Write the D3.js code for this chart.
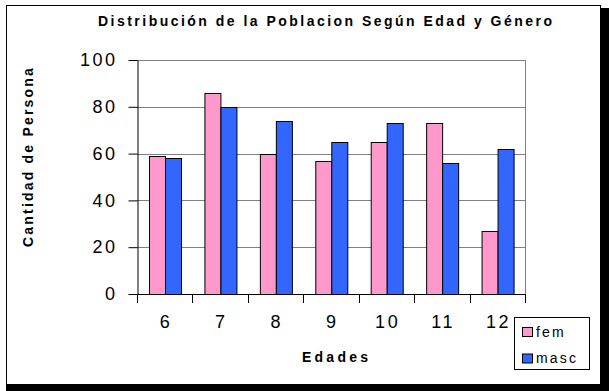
<!DOCTYPE html>
<html>
<head>
<meta charset="utf-8">
<script src="https://cdn.jsdelivr.net/npm/d3@7"></script>
<style>
body { margin: 0; background: #fff; }
svg { display: block; font-family: "Liberation Sans", Arial, sans-serif; }
</style>
</head>
<body>
<div id="chart"></div>
<script>
const width = 609;
const height = 391;

const edades = ["6", "7", "8", "9", "10", "11", "12"];
const series = ["fem", "masc"];
const fem = [59, 86, 60, 57, 65, 73, 27];
const masc = [58, 80, 74, 65, 73, 56, 62];
const yTicks = [0, 20, 40, 60, 80, 100];
const colors = {"fem": "#ff99cc", "masc": "#3366ff"};

const plot = {"left": 137, "right": 525, "top": 60, "bottom": 294};

let svg = d3.select("#chart").append("svg")
	.attr("width", width)
	.attr("height", height);

// frame + shadow
svg.append("rect")
	.attr("x", 6).attr("y", 8)
	.attr("width", width - 6).attr("height", height - 8)
	.attr("fill", "#000");
svg.append("rect")
	.attr("x", 6.5).attr("y", 5.5)
	.attr("width", 594).attr("height", 379)
	.attr("fill", "#fff")
	.attr("stroke", "#000");

let x = d3.scaleBand()
	.domain(edades)
	.range([plot.left, plot.right]);
let xInner = d3.scaleBand()
	.domain(series)
	.range([0, x.bandwidth()])
	.paddingOuter(0.75);
let y = d3.scaleLinear()
	.domain([0, 100])
	.range([plot.bottom, plot.top]);

// gridlines
svg.append("g")
	.selectAll("line")
	.data(yTicks.filter(d => d > 0))
	.enter()
	.append("line")
	.attr("x1", plot.left).attr("x2", plot.right)
	.attr("y1", d => Math.round(y(d)) + 0.5).attr("y2", d => Math.round(y(d)) + 0.5)
	.attr("stroke", "#808080");
svg.append("line")
	.attr("x1", plot.right + 0.5).attr("x2", plot.right + 0.5)
	.attr("y1", plot.top).attr("y2", plot.bottom)
	.attr("stroke", "#808080");

// bars
let rows = edades.map((d, i) => ({"edad": d, "fem": fem[i], "masc": masc[i]}));
let groups = svg.append("g")
	.selectAll("g")
	.data(rows)
	.enter()
	.append("g")
	.attr("transform", d => "translate(" + x(d.edad) + ",0)");
groups.selectAll("rect")
	.data(d => series.map(s => ({"key": s, "value": d[s]})))
	.enter()
	.append("rect")
	.attr("x", d => Math.round(xInner(d.key)) + 0.5)
	.attr("y", d => Math.round(y(d.value)) + 0.5)
	.attr("width", Math.round(xInner.bandwidth()))
	.attr("height", d => Math.round(y(0)) - Math.round(y(d.value)))
	.attr("fill", d => colors[d.key])
	.attr("stroke", "#000");

// y axis
let yAxis = svg.append("g")
	.attr("transform", "translate(" + (plot.left + 0.5) + ",0)")
	.call(d3.axisLeft(y).tickValues(yTicks).tickSize(9).tickPadding(11).tickSizeOuter(0));
yAxis.select(".domain").attr("stroke", "#000");
yAxis.selectAll(".tick line").attr("stroke", "#000");
yAxis.selectAll(".tick text")
	.attr("font-size", 18)
	.attr("letter-spacing", 2.5)
	.attr("font-family", "Liberation Sans, Arial, sans-serif")
	.attr("fill", "#000");

// x axis
let xAxis = svg.append("g")
	.attr("transform", "translate(0," + (plot.bottom + 0.5) + ")")
	.call(d3.axisBottom(x).tickSize(0).tickPadding(21).tickSizeOuter(0));
xAxis.select(".domain").remove();
xAxis.selectAll(".tick text")
	.attr("font-size", 18)
	.attr("letter-spacing", 2.5)
	.attr("dx", 1.2)
	.attr("font-family", "Liberation Sans, Arial, sans-serif")
	.attr("fill", "#000");
svg.append("line")
	.attr("x1", plot.left).attr("x2", plot.right + 1)
	.attr("y1", plot.bottom + 0.5).attr("y2", plot.bottom + 0.5)
	.attr("stroke", "#000");
svg.append("g")
	.selectAll("line")
	.data(edades.map(d => x(d)).concat([x.range()[1]]))
	.enter()
	.append("line")
	.attr("x1", d => Math.round(d) + 0.5).attr("x2", d => Math.round(d) + 0.5)
	.attr("y1", plot.bottom).attr("y2", plot.bottom + 9)
	.attr("stroke", "#000");

// title and axis titles
svg.append("text")
	.attr("x", 98).attr("y", 26)
	.attr("font-size", 14)
	.attr("font-weight", "bold")
	.attr("textLength", 454)
	.attr("lengthAdjust", "spacing")
	.text("Distribución de la Poblacion Según Edad y Género");

svg.append("text")
	.attr("x", 302).attr("y", 362)
	.attr("font-size", 14)
	.attr("font-weight", "bold")
	.attr("textLength", 66)
	.attr("lengthAdjust", "spacing")
	.text("Edades");

svg.append("clipPath")
	.attr("id", "ylabClip")
	.append("rect")
	.attr("x", 0).attr("y", 66)
	.attr("width", 60).attr("height", 300);
svg.append("g")
	.attr("clip-path", "url(#ylabClip)")
	.append("text")
	.attr("transform", "translate(33,247) rotate(-90)")
	.attr("font-size", 14)
	.attr("font-weight", "bold")
	.attr("letter-spacing", 2.2)
	.text("Cantidad de Personas");

// legend
let legend = svg.append("g");
legend.append("rect")
	.attr("x", 514.5).attr("y", 317.5)
	.attr("width", 75).attr("height", 52)
	.attr("fill", "#fff")
	.attr("stroke", "#000");
let items = legend.selectAll("g")
	.data(series)
	.enter()
	.append("g")
	.attr("transform", (d, i) => "translate(522," + (327 + i * 26.5) + ")");
items.append("rect")
	.attr("x", 0.5).attr("y", 0.5)
	.attr("width", 10).attr("height", 9)
	.attr("fill", d => colors[d])
	.attr("stroke", "#000");
items.append("text")
	.attr("x", 14).attr("y", 9.5)
	.attr("font-size", 14)
	.attr("letter-spacing", 2.2)
	.text(d => d);
</script>
</body>
</html>
